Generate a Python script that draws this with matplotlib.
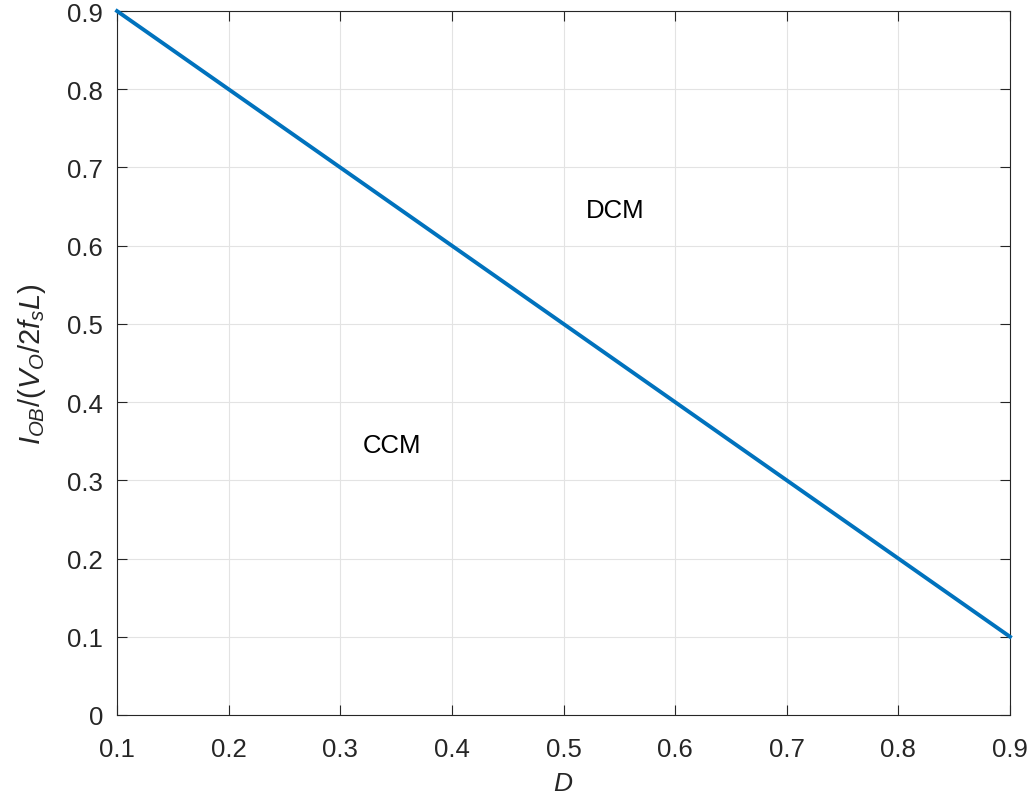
import matplotlib
matplotlib.use('Agg')
import matplotlib.pyplot as plt
import numpy as np

# duty cycle and normalised boundary current
D = [0.1, 0.2, 0.3, 0.4, 0.5, 0.6, 0.7, 0.8, 0.9]
I_ob = [0.9, 0.8, 0.7, 0.6, 0.5, 0.4, 0.3, 0.2, 0.1]
x_ticks = [0.1, 0.2, 0.3, 0.4, 0.5, 0.6, 0.7, 0.8, 0.9]
y_ticks = [0, 0.1, 0.2, 0.3, 0.4, 0.5, 0.6, 0.7, 0.8, 0.9]
region_labels = ['CCM', 'DCM']
region_pos = [(0.32, 0.345), (0.52, 0.645)]

plt.rcParams['font.family'] = ['Liberation Sans', 'DejaVu Sans']
plt.rcParams['mathtext.fontset'] = 'custom'
plt.rcParams['mathtext.it'] = 'Liberation Sans:italic'
plt.rcParams['mathtext.rm'] = 'Liberation Sans'

fig = plt.figure(figsize=(10.32, 8.04), dpi=100)
ax = fig.add_axes([0.1134, 0.1095, 0.8653, 0.8755])

ax.plot(D, I_ob, color='#0072BD', lw=2.8, clip_on=False, zorder=3)

for lab, (x, y) in zip(region_labels, region_pos):
    ax.text(x, y, lab, fontsize=18.5, color='black', ha='left', va='center')

ax.set_xlim(0.1, 0.9)
ax.set_ylim(0, 0.9)
ax.set_xticks(x_ticks)
ax.set_yticks(y_ticks)
ax.set_xticklabels([f'{v:g}' for v in x_ticks])
ax.set_yticklabels([f'{v:g}' for v in y_ticks])
ax.grid(True, color='#e3e3e3', lw=0.8)
ax.set_axisbelow(True)
ax.tick_params(direction='in', length=7, width=0.8, colors='#262626',
               labelsize=18.5, top=True, right=True)
ax.tick_params(axis='x', pad=16)
ax.tick_params(axis='y', pad=10)
for s in ax.spines.values():
    s.set_color('#262626')
    s.set_linewidth(0.8)

ax.set_xlabel('$D$', fontsize=19, color='#262626', labelpad=7)
ax.set_ylabel('$I_{OB}/(V_O/2f_sL)$', fontsize=21, color='#262626', labelpad=14)

fig.savefig('out.png', dpi=100)
